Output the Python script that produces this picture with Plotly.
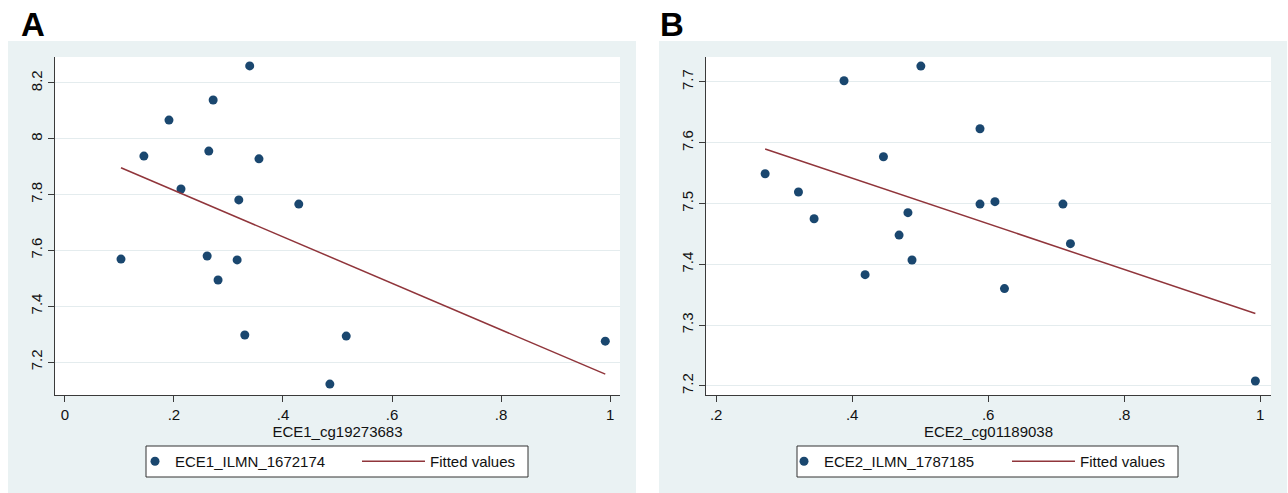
import numpy as np
import plotly.graph_objects as go

# ---- data ----
a_x = [0.103, 0.145, 0.191, 0.213, 0.261, 0.264, 0.272, 0.281, 0.316, 0.319,
       0.330, 0.339, 0.356, 0.429, 0.486, 0.516, 0.991]
a_y = [7.569, 7.938, 8.067, 7.820, 7.580, 7.956, 8.139, 7.494, 7.566, 7.781,
       7.297, 8.261, 7.928, 7.766, 7.121, 7.293, 7.275]
b_x = [0.272, 0.321, 0.344, 0.388, 0.419, 0.446, 0.469, 0.482, 0.488, 0.501,
       0.588, 0.588, 0.610, 0.624, 0.710, 0.721, 0.993]
b_y = [7.549, 7.519, 7.475, 7.702, 7.383, 7.577, 7.448, 7.485, 7.407, 7.726,
       7.623, 7.499, 7.503, 7.360, 7.499, 7.434, 7.208]

a_xticks = [0, 0.2, 0.4, 0.6, 0.8, 1]
a_xticktext = ["0", ".2", ".4", ".6", ".8", "1"]
a_yticks = [7.2, 7.4, 7.6, 7.8, 8.0, 8.2]
a_yticktext = ["7.2", "7.4", "7.6", "7.8", "8", "8.2"]
b_xticks = [0.2, 0.4, 0.6, 0.8, 1]
b_xticktext = [".2", ".4", ".6", ".8", "1"]
b_yticks = [7.2, 7.3, 7.4, 7.5, 7.6, 7.7]
b_yticktext = ["7.2", "7.3", "7.4", "7.5", "7.6", "7.7"]

a_series = "ECE1_ILMN_1672174"
b_series = "ECE2_ILMN_1787185"
a_xtitle = "ECE1_cg19273683"
b_xtitle = "ECE2_cg01189038"

W, H = 1288, 493
NAVY = "#1A476F"
MAROON = "#90353B"
BG = "#EAF2F3"
GRID = "#E4ECEE"
AXIS = "#3A3A3A"
FONT = "Liberation Sans, Arial, Helvetica, sans-serif"


def px(x):
    return x / W


def py(y):
    return 1 - y / H


def fit(x, y):
    m, c = np.polyfit(x, y, 1)
    xs = np.array([min(x), max(x)])
    return xs, m * xs + c


fig = go.Figure()

afx, afy = fit(a_x, a_y)
bfx, bfy = fit(b_x, b_y)

fig.add_trace(go.Scatter(x=a_x, y=a_y, mode="markers", name=a_series,
                         marker=dict(color=NAVY, size=9), showlegend=True,
                         xaxis="x", yaxis="y", legend="legend"))
fig.add_trace(go.Scatter(x=afx, y=afy, mode="lines", name="Fitted values",
                         line=dict(color=MAROON, width=1.5), showlegend=True,
                         xaxis="x", yaxis="y", legend="legend2"))
fig.add_trace(go.Scatter(x=b_x, y=b_y, mode="markers", name=b_series,
                         marker=dict(color=NAVY, size=9), showlegend=True,
                         xaxis="x2", yaxis="y2", legend="legend3"))
fig.add_trace(go.Scatter(x=bfx, y=bfy, mode="lines", name="Fitted values",
                         line=dict(color=MAROON, width=1.5), showlegend=True,
                         xaxis="x2", yaxis="y2", legend="legend4"))

axis_common = dict(showline=True, linecolor=AXIS, linewidth=1.2, ticks="outside",
                   ticklen=6, tickcolor=AXIS, tickwidth=1.2, zeroline=False,
                   tickfont=dict(size=15, color="#111", family=FONT))

LY = py(445)
fig.update_layout(
    width=W, height=H, margin=dict(l=0, r=0, t=0, b=0),
    showlegend=True,
    paper_bgcolor="white", plot_bgcolor="rgba(0,0,0,0)",
    font=dict(family=FONT, size=15, color="#111"),
    xaxis=dict(domain=[px(55), px(620)], range=[-0.018, 1.018], anchor="y",
               tickvals=a_xticks, ticktext=a_xticktext, showgrid=False,
               title=dict(text=a_xtitle, standoff=2, font=dict(size=15)), **axis_common),
    yaxis=dict(domain=[py(395), py(57)], range=[7.082, 8.293], anchor="x",
               tickvals=a_yticks, ticktext=a_yticktext, tickangle=-90,
               showgrid=True, gridcolor=GRID, gridwidth=1, **axis_common),
    xaxis2=dict(domain=[px(706), px(1271)], range=[0.185, 1.016], anchor="y2",
                tickvals=b_xticks, ticktext=b_xticktext, showgrid=False,
                title=dict(text=b_xtitle, standoff=2, font=dict(size=15)), **axis_common),
    yaxis2=dict(domain=[py(395), py(57)], range=[7.185, 7.741], anchor="x2",
                tickvals=b_yticks, ticktext=b_yticktext, tickangle=-90,
                showgrid=True, gridcolor=GRID, gridwidth=1, **axis_common),
    legend=dict(x=px(135), y=LY, xanchor="left", yanchor="top", visible=True,
                bgcolor="rgba(0,0,0,0)", borderwidth=0, itemwidth=30,
                font=dict(size=15, color="#111")),
    legend2=dict(x=px(357), y=LY, xanchor="left", yanchor="top", visible=True,
                 bgcolor="rgba(0,0,0,0)", borderwidth=0, itemwidth=63,
                 font=dict(size=15, color="#111")),
    legend3=dict(x=px(784), y=LY, xanchor="left", yanchor="top", visible=True,
                 bgcolor="rgba(0,0,0,0)", borderwidth=0, itemwidth=30,
                 font=dict(size=15, color="#111")),
    legend4=dict(x=px(1007), y=LY, xanchor="left", yanchor="top", visible=True,
                 bgcolor="rgba(0,0,0,0)", borderwidth=0, itemwidth=63,
                 font=dict(size=15, color="#111")),
)

shapes = []
for (l, r) in [(8, 636), (659, 1287)]:
    shapes.append(dict(type="rect", xref="paper", yref="paper", layer="below",
                       x0=px(l), x1=px(r), y0=py(493), y1=py(41),
                       fillcolor=BG, line=dict(width=0)))
for (l, r) in [(55, 620), (706, 1271)]:
    shapes.append(dict(type="rect", xref="paper", yref="paper", layer="below",
                       x0=px(l), x1=px(r), y0=py(395), y1=py(57),
                       fillcolor="white", line=dict(width=0)))
for (l, r) in [(146, 528), (797, 1178)]:
    shapes.append(dict(type="rect", xref="paper", yref="paper", layer="below",
                       x0=px(l), x1=px(r), y0=py(477), y1=py(446),
                       fillcolor="white", line=dict(color="#333", width=1)))
fig.update_layout(shapes=shapes)

fig.add_annotation(text="<b>A</b>", x=px(33), y=py(24), xref="paper", yref="paper",
                   showarrow=False, xanchor="center", yanchor="middle",
                   font=dict(size=33, color="black", family=FONT))
fig.add_annotation(text="<b>B</b>", x=px(672), y=py(24), xref="paper", yref="paper",
                   showarrow=False, xanchor="center", yanchor="middle",
                   font=dict(size=33, color="black", family=FONT))

fig.write_html("out.html")
